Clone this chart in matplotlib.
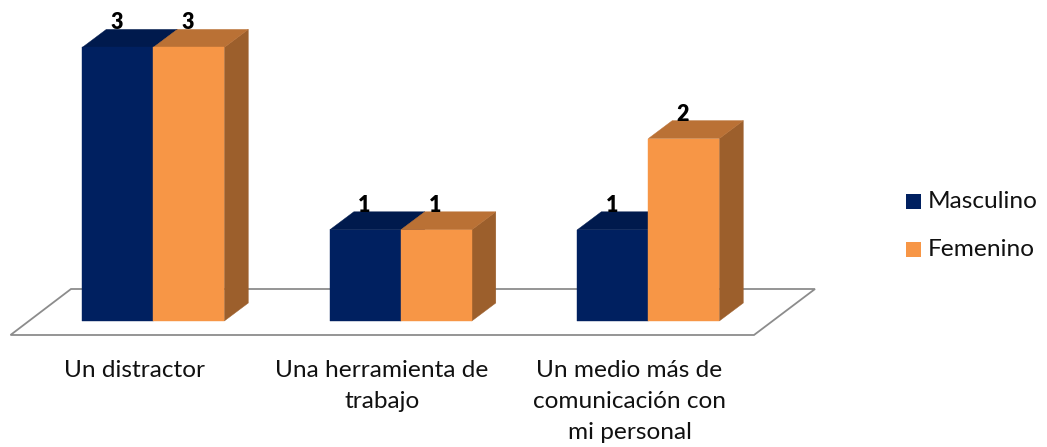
import matplotlib
matplotlib.use('Agg')
import matplotlib.pyplot as plt
from matplotlib.patches import Polygon, Rectangle

categories = ['Un distractor', 'Una herramienta de\ntrabajo', 'Un medio más de\ncomunicación con\nmi personal']
masculino = [3, 1, 1]
femenino = [3, 1, 2]

plt.rcParams['font.family'] = ['Lato', 'DejaVu Sans']

# pixel sizes of the picture
W, H = 1047, 447
UNIT_X = 247.5   # px per category
UNIT_Y = 91.2    # px per value
BASE_X = 153.3   # px of the first category centre
BASE_Y = 321     # px of value 0
BAR_W = 71 / UNIT_X
DX = 24 / UNIT_X
DY = 18 / UNIT_Y

fig = plt.figure(figsize=(W / 100, H / 100), dpi=100)
ax = fig.add_axes([0, 0, 1, 1])
ax.set_xlim(-BASE_X / UNIT_X, (W - BASE_X) / UNIT_X)
ax.set_ylim(-(H - BASE_Y) / UNIT_Y, BASE_Y / UNIT_Y)
ax.axis('off')


def px(x, y):
    return (x - BASE_X) / UNIT_X, (BASE_Y - y) / UNIT_Y


# floor
floor = [px(10.5, 335), px(71, 289), px(815, 289), px(754, 335)]
ax.add_patch(Polygon(floor, closed=True, facecolor='white', edgecolor='#8c8c8c', linewidth=1.3, zorder=1))


def bar3d(x0, value, front, top, side):
    x1 = x0 + BAR_W
    ax.add_patch(Polygon([(x1, 0), (x1 + DX, DY), (x1 + DX, value + DY), (x1, value)],
                         facecolor=side, edgecolor=side, linewidth=0.3, zorder=3))
    ax.add_patch(Polygon([(x0, value), (x0 + DX, value + DY), (x1 + DX, value + DY), (x1, value)],
                         facecolor=top, edgecolor=top, linewidth=0.3, zorder=3))
    ax.add_patch(Rectangle((x0, 0), BAR_W, value, facecolor=front, edgecolor=front, linewidth=0.3, zorder=4))
    ax.text(x0 + BAR_W / 2 - 0.003, value + DY, str(value), ha='center', va='baseline',
            fontsize=15.5, fontweight='heavy', color='black', zorder=6)


for i in range(len(categories)):
    bar3d(i - BAR_W, masculino[i], '#002060', '#001A4D', '#001A4D')
    bar3d(i, femenino[i], '#F79646', '#BA7135', '#9C5F2C')

# category labels
label_x = [134.5, 382, 629.5]
for lx, cat in zip(label_x, categories):
    x, y = px(lx, 360)
    ax.text(x, y, cat, ha='center', va='top', fontsize=17.6, color='#111111', linespacing=1.6)

# legend
for name, color, y_px in [('Masculino', '#002060', 201), ('Femenino', '#F79646', 249)]:
    x0, y0 = px(906, y_px + 7.5)
    ax.add_patch(Rectangle((x0, y0), 15 / UNIT_X, 15 / UNIT_Y, facecolor=color, edgecolor='none', zorder=4))
    x, y = px(928, y_px)
    ax.text(x, y, name, ha='left', va='center', fontsize=17.6, color='#111111')

plt.savefig('out.png', dpi=100)
